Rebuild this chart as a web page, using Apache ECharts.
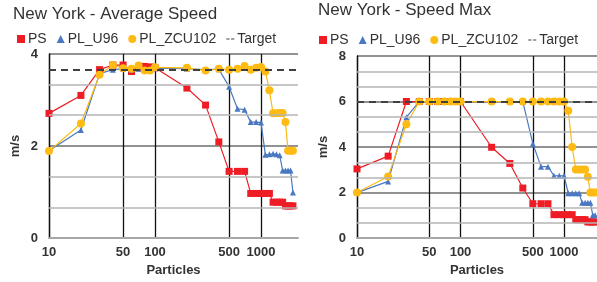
<!DOCTYPE html>
<html>
<head>
<meta charset="utf-8">
<script src="https://cdn.jsdelivr.net/npm/echarts@6/dist/echarts.min.js"></script>
<style>
html, body { margin: 0; padding: 0; background: #fff; }
#main { width: 597px; height: 282px; }
</style>
</head>
<body>
<div id="main"></div>
<script>
// particle counts (x) shared by both panels
var particles = [10, 20, 30, 40, 50, 60, 70, 80, 90, 100,
	200, 300, 400, 500, 600, 700, 800, 900, 1000,
	1100, 1200, 1300, 1400, 1500, 1600, 1700, 1800, 1900, 2000];
var xTicks = [10, 50, 100, 500, 1000];

// New York - Average Speed (m/s)
var avgPS  = [2.71, 3.10, 3.66, 3.76, 3.76, 3.62, 3.70, 3.73, 3.72, 3.70,
	3.26, 2.89, 2.09, 1.45, 1.45, 1.45, 0.97, 0.97, 0.97,
	0.97, 0.97, 0.78, 0.78, 0.78, 0.78, 0.70, 0.70, 0.70, 0.70];
var avgU96 = [1.90, 2.35, 3.57, 3.66, 3.68, 3.66, 3.68, 3.66, 3.67, 3.69,
	3.68, 3.66, 3.67, 3.29, 2.81, 2.79, 2.52, 2.52, 2.51,
	1.81, 1.82, 1.83, 1.82, 1.80, 1.47, 1.47, 1.47, 1.47, 0.99];
var avgZCU = [1.89, 2.49, 3.55, 3.76, 3.69, 3.68, 3.75, 3.64, 3.64, 3.71,
	3.70, 3.64, 3.68, 3.66, 3.68, 3.74, 3.66, 3.70, 3.72,
	3.62, 3.21, 2.71, 2.71, 2.72, 2.72, 2.52, 1.90, 1.90, 1.90];
var avgTarget = 3.65;
var avgMinorLines = [2 / 3, 4 / 3, 8 / 3, 10 / 3];

// New York - Speed Max (m/s)
var maxPS  = [3.04, 3.60, 6.00, 6.00, 6.00, 6.00, 6.00, 6.00, 6.00, 6.00,
	3.99, 3.28, 2.20, 1.51, 1.51, 1.51, 1.03, 1.03, 1.03,
	1.03, 1.03, 0.81, 0.81, 0.81, 0.81, 0.71, 0.71, 0.71, 0.71];
var maxU96 = [2.00, 2.49, 5.31, 6.00, 6.00, 6.00, 6.00, 6.00, 6.00, 6.00,
	6.00, 6.00, 6.00, 4.15, 3.14, 3.14, 2.74, 2.74, 2.74,
	1.97, 1.97, 1.97, 1.97, 1.55, 1.55, 1.55, 1.55, 1.00, 1.00];
var maxZCU = [2.00, 2.71, 5.00, 6.00, 6.00, 6.00, 6.00, 6.00, 6.00, 6.00,
	6.00, 6.00, 6.00, 6.00, 6.00, 6.00, 6.00, 6.00, 6.00,
	5.59, 4.00, 3.01, 3.01, 3.01, 3.01, 2.70, 2.00, 2.00, 2.00];
var maxTarget = 6;
var maxMinorLines = [2 / 3, 4 / 3, 8 / 3, 10 / 3, 14 / 3, 16 / 3, 20 / 3, 22 / 3];

var RED = '#ee1c25', BLUE = '#4a78c2', GOLD = '#fdbb13';
var FONT = '"Liberation Sans", Arial, sans-serif';
var DASH_ICON = 'path://M0,0 L8,0 L8,2 L0,2 Z M12,0 L20,0 L20,2 L12,2 Z';

function pts(ys) {
	var out = [];
	for (var i = 0; i < particles.length; i++) {
		out.push([Math.log10(particles[i]), ys[i]]);
	}
	return out;
}

function makeX(idx, maxLog) {
	var ticks = xTicks.map(function (v) { return Math.log10(v); });
	return {
		type: 'value', gridIndex: idx, min: 1, max: maxLog,
		name: 'Particles', nameLocation: 'middle', nameGap: 24,
		nameTextStyle: { fontSize: 13, fontWeight: 'bold', color: '#333' },
		axisLine: { show: true, lineStyle: { color: '#a6a6a6', width: 2 } },
		axisTick: { show: false, customValues: ticks },
		axisLabel: {
			customValues: ticks, margin: 8,
			fontSize: 13, fontWeight: 'bold', color: '#333',
			formatter: function (v) { return Math.round(Math.pow(10, v)); }
		},
		splitLine: { show: true, lineStyle: { color: '#111', width: 1.3 } }
	};
}

function makeY(idx, max) {
	return {
		type: 'value', gridIndex: idx, min: 0, max: max, interval: 2,
		name: 'm/s', nameLocation: 'middle', nameGap: 27,
		nameTextStyle: { fontSize: 13, fontWeight: 'bold', color: '#333' },
		axisLine: { show: true, lineStyle: { color: '#111', width: 1.3 } },
		axisTick: { show: false },
		axisLabel: { fontSize: 13, fontWeight: 'bold', color: '#333', margin: 11 },
		splitLine: { show: true, lineStyle: { color: '#6e6e6e', width: 1.5 } }
	};
}

function makeSeries(idx, ps, u96, zcu, target, minorLines) {
	return [
		{
			// light horizontal gridlines between the labelled values
			name: 'grid', type: 'line', xAxisIndex: idx, yAxisIndex: idx,
			data: [], symbol: 'none', z: 1, silent: true,
			markLine: {
				silent: true, symbol: 'none', label: { show: false },
				lineStyle: { color: '#b5b5b5', width: 1.5, type: 'solid' },
				data: minorLines.map(function (v) { return { yAxis: v }; })
			}
		},
		{
			name: 'Target', type: 'line', xAxisIndex: idx, yAxisIndex: idx,
			data: [], symbol: 'none',
			lineStyle: { color: '#404040', width: 2.2, type: [7, 5] },
			itemStyle: { color: '#404040' },
			markLine: {
				silent: true, symbol: 'none', label: { show: false },
				lineStyle: { color: '#404040', width: 2.2, type: [7, 5] },
				data: [{ yAxis: target }]
			}
		},
		{
			name: 'PS', type: 'line', xAxisIndex: idx, yAxisIndex: idx,
			data: pts(ps), symbol: 'rect', symbolSize: 7,
			lineStyle: { color: RED, width: 1.2 }, itemStyle: { color: RED }
		},
		{
			name: 'PL_U96', type: 'line', xAxisIndex: idx, yAxisIndex: idx,
			data: pts(u96), symbol: 'triangle', symbolSize: 6,
			lineStyle: { color: BLUE, width: 1.2 }, itemStyle: { color: BLUE }
		},
		{
			name: 'PL_ZCU102', type: 'line', xAxisIndex: idx, yAxisIndex: idx,
			data: pts(zcu), symbol: 'circle', symbolSize: 8,
			lineStyle: { color: GOLD, width: 1.2 }, itemStyle: { color: GOLD }
		}
	];
}

function makeLegend(left, top) {
	return {
		left: left, top: top, itemWidth: 8, itemHeight: 8, itemGap: 10,
		selectedMode: false,
		textStyle: { fontSize: 14, color: '#333', padding: [0, 0, 0, -2] },
		data: [
			{ name: 'PS', icon: 'rect' },
			{ name: 'PL_U96', icon: 'triangle' },
			{ name: 'PL_ZCU102', icon: 'circle' },
			{ name: 'Target', icon: DASH_ICON, itemStyle: { color: '#404040' } }
		]
	};
}

var myChart = echarts.init(document.getElementById('main'));
var option = {
	animation: false,
	backgroundColor: '#fff',
	textStyle: { fontFamily: FONT },
	title: [
		{ text: 'New York - Average Speed', left: 8, top: 1,
		  textStyle: { fontSize: 17, fontWeight: 'normal', color: '#333', fontFamily: FONT } },
		{ text: 'New York - Speed Max', left: 313, top: -3,
		  textStyle: { fontSize: 17, fontWeight: 'normal', color: '#333', fontFamily: FONT } }
	],
	legend: [makeLegend(12, 27), makeLegend(314, 28)],
	grid: [
		{ left: 49, top: 54, width: 249, height: 186 },
		{ left: 357, top: 56, width: 240, height: 183 }
	],
	xAxis: [makeX(0, 3.349), makeX(1, 3.319)],
	yAxis: [makeY(0, 4), makeY(1, 8)],
	series: makeSeries(0, avgPS, avgU96, avgZCU, avgTarget, avgMinorLines)
		.concat(makeSeries(1, maxPS, maxU96, maxZCU, maxTarget, maxMinorLines))
};
myChart.setOption(option);
</script>
</body>
</html>
